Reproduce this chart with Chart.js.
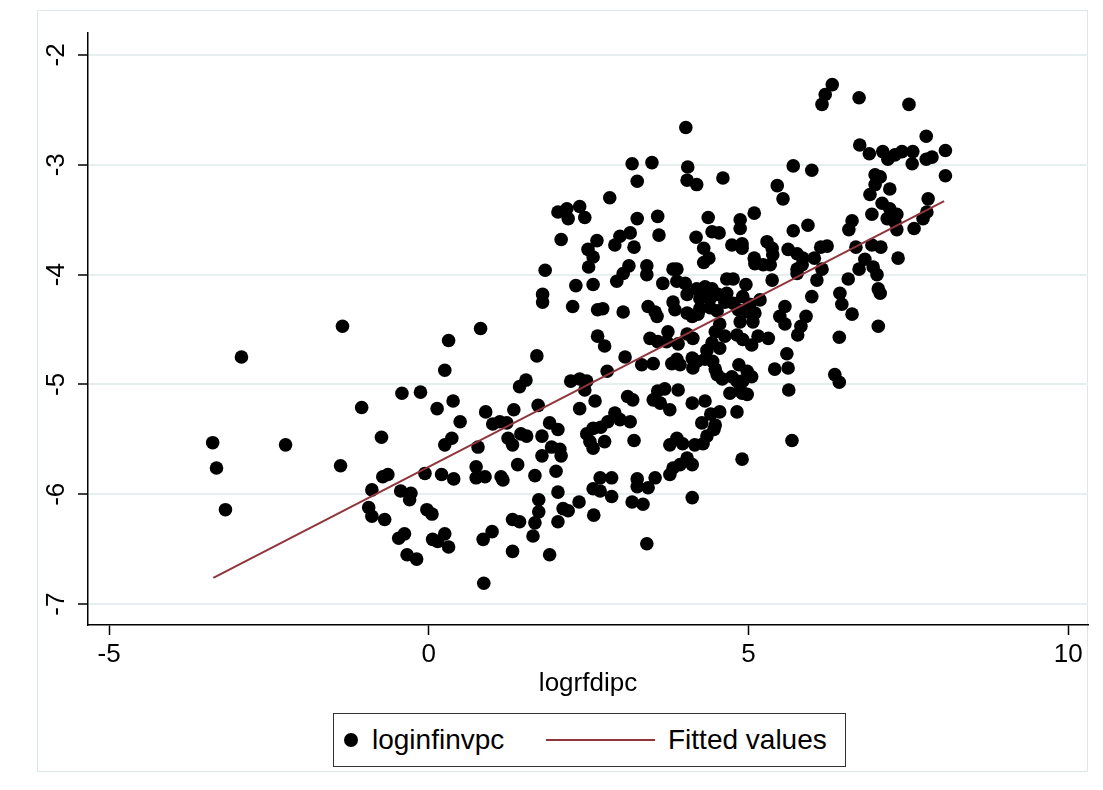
<!DOCTYPE html>
<html>
<head>
<meta charset="utf-8">
<script src="https://cdn.jsdelivr.net/npm/chart.js@4.4.1/dist/chart.umd.min.js"></script>
<style>
  html, body { margin: 0; padding: 0; background: #fff; }
  #wrap { position: relative; width: 1103px; height: 790px; overflow: hidden; font-family: "Liberation Sans", Arial, sans-serif; }
  #frame { position: absolute; left: 37px; top: 10px; width: 1051px; height: 762px; border: 1px solid #dde6e8; box-sizing: border-box; }
  canvas { position: absolute; left: 0; top: 0; }
  #legend { position: absolute; left: 333px; top: 713px; width: 513px; height: 54px; border: 1px solid #333; box-sizing: border-box; background: #fff; font-size: 28px; color: #000; }
  #legend .dot { position: absolute; top: 19px; width: 14px; height: 14px; border-radius: 50%; background: #000; }
  #legend span { position: absolute; top: 10px; line-height: 32px; white-space: nowrap; }
  #legend .ln { position: absolute; top: 25px; height: 2px; background: #8f353b; }
</style>
</head>
<body>
<div id="wrap">
  <div id="frame"></div>
  <canvas id="c" width="1103" height="790"></canvas>
  <div id="legend">
    <div class="dot" style="left:10px"></div>
    <span style="left:38px">loginfinvpc</span>
    <div class="ln" style="left:212px;width:109px"></div>
    <span style="left:334px">Fitted values</span>
  </div>
</div>
<script>
// ---- data ----
const xTickLabels = [-5, 0, 5, 10];
const yTickLabels = [-2, -3, -4, -5, -6, -7];
const xTitle = 'logrfdipc';
const scatterName = 'loginfinvpc';
const fitName = 'Fitted values';

// loginfinvpc vs logrfdipc, [x, y]
const loginfinvpc = [
[-3.38,-5.53],[-3.32,-5.76],[-3.18,-6.14],[-2.93,-4.75],[-2.24,-5.55],[-1.35,-4.47],[-1.38,-5.74],[-1.05,-5.21],[-0.89,-5.96],[-0.72,-5.84],
[-0.64,-5.82],[-0.94,-6.12],[-0.89,-6.20],[-0.69,-6.23],[-0.47,-6.40],[-0.74,-5.48],[-0.42,-5.08],[0.81,-4.49],[0.31,-4.60],[0.25,-4.87],
[1.69,-4.74],[1.78,-4.25],[2.25,-4.29],[-0.13,-5.07],[0.38,-5.15],[0.13,-5.22],[0.49,-5.34],[0.89,-5.25],[1.33,-5.23],[1.71,-5.19],
[1.42,-5.02],[1.52,-4.96],[2.22,-4.97],[1.00,-5.36],[1.11,-5.34],[1.22,-5.35],[1.44,-5.45],[1.53,-5.47],[1.24,-5.49],[1.31,-5.55],
[1.77,-5.47],[1.89,-5.35],[2.02,-5.41],[1.92,-5.57],[2.05,-5.59],[0.25,-5.55],[0.36,-5.49],[0.77,-5.57],[1.77,-5.65],[2.07,-5.65],
[1.39,-5.73],[-0.06,-5.81],[0.20,-5.82],[0.39,-5.86],[0.74,-5.75],[0.74,-5.85],[0.88,-5.84],[1.13,-5.84],[1.16,-5.87],[1.66,-5.83],
[1.99,-5.79],[2.02,-5.98],[-0.44,-5.97],[-0.28,-5.99],[-0.30,-6.05],[-0.03,-6.14],[0.05,-6.18],[1.72,-6.05],[1.72,-6.16],[1.66,-6.26],
[1.63,-6.38],[1.31,-6.23],[1.42,-6.25],[2.10,-6.13],[2.02,-6.25],[0.99,-6.34],[0.85,-6.41],[-0.38,-6.36],[0.06,-6.41],[0.14,-6.43],
[0.25,-6.36],[0.31,-6.48],[-0.34,-6.55],[-0.19,-6.59],[1.31,-6.52],[1.89,-6.55],[0.86,-6.81],
[4.02,-2.66],[3.18,-2.99],[3.49,-2.98],[4.05,-3.02],[4.04,-3.14],[4.19,-3.18],[4.60,-3.12],[3.26,-3.15],[2.83,-3.30],[2.02,-3.43],
[2.16,-3.40],[2.18,-3.49],[2.36,-3.38],[2.44,-3.48],[3.26,-3.49],[3.58,-3.47],[4.37,-3.48],[4.43,-3.61],[4.54,-3.62],[2.07,-3.68],
[2.63,-3.69],[2.49,-3.77],[2.57,-3.84],[2.91,-3.73],[2.99,-3.65],[3.15,-3.62],[3.21,-3.75],[3.60,-3.64],[4.18,-3.66],[4.30,-3.76],
[4.38,-3.85],[4.30,-3.89],[1.82,-3.96],[2.50,-3.93],[3.13,-3.92],[3.41,-3.92],[3.82,-3.95],[3.88,-3.95],[1.78,-4.18],[2.30,-4.10],
[2.57,-4.09],[3.04,-3.99],[2.94,-4.06],[3.41,-4.00],[3.66,-4.08],[3.88,-4.06],[4.01,-4.08],[4.19,-4.13],[4.32,-4.11],[4.43,-4.13],
[4.04,-4.18],[4.24,-4.22],[4.40,-4.22],[2.64,-4.32],[2.72,-4.31],[3.04,-4.34],[3.43,-4.29],[3.54,-4.34],[3.57,-4.38],[3.82,-4.25],
[3.85,-4.32],[4.04,-4.35],[4.12,-4.38],[4.21,-4.36],[4.40,-4.30],[4.51,-4.33],[2.64,-4.56],[2.75,-4.65],[3.07,-4.75],[3.46,-4.58],
[3.58,-4.61],[3.74,-4.52],[3.72,-4.61],[3.90,-4.63],[4.04,-4.54],[4.13,-4.58],[4.48,-4.52],[4.43,-4.62],[4.32,-4.77],[4.35,-4.69],
[3.33,-4.82],[3.51,-4.81],[3.80,-4.81],[3.88,-4.77],[3.93,-4.82],[4.12,-4.76],[4.13,-4.85],[4.19,-4.79],[4.48,-4.86],[2.79,-4.88],
[2.36,-4.95],[2.47,-4.97],[2.44,-5.05],[2.36,-5.22],[2.60,-5.15],[3.11,-5.11],[3.19,-5.14],[3.58,-5.06],[3.69,-5.04],[3.90,-5.05],
[3.51,-5.14],[3.62,-5.17],[3.77,-5.23],[4.12,-5.17],[4.32,-5.15],[4.41,-5.27],[2.91,-5.26],[2.80,-5.34],[2.99,-5.32],[3.15,-5.34],
[2.57,-5.40],[2.69,-5.39],[4.27,-5.35],[4.48,-5.37],[2.47,-5.45],[2.52,-5.52],[2.57,-5.58],[2.75,-5.52],[3.21,-5.51],[2.68,-5.85],
[2.86,-5.85],[2.57,-5.95],[2.68,-5.97],[2.86,-6.02],[3.26,-5.86],[3.54,-5.85],[3.26,-5.93],[3.43,-5.94],[3.77,-5.82],[3.82,-5.76],
[3.93,-5.73],[4.04,-5.67],[4.12,-5.73],[3.77,-5.55],[3.88,-5.49],[3.97,-5.54],[4.16,-5.55],[4.29,-5.54],[4.35,-5.47],[4.46,-5.41],
[2.18,-6.15],[2.35,-6.07],[2.58,-6.19],[3.18,-6.07],[3.35,-6.09],[4.12,-6.03],[3.41,-6.45],
[6.15,-2.45],[5.70,-3.01],[5.99,-3.05],[5.45,-3.19],[5.54,-3.31],[5.09,-3.44],[4.87,-3.50],[4.87,-3.58],[5.70,-3.60],[5.93,-3.55],
[4.74,-3.73],[4.90,-3.72],[4.90,-3.76],[5.29,-3.70],[5.37,-3.76],[5.38,-3.82],[5.34,-3.91],[5.23,-3.91],[5.09,-3.85],[5.62,-3.77],
[5.76,-3.81],[5.85,-3.85],[6.03,-3.85],[6.13,-3.75],[6.23,-3.74],[5.76,-3.95],[4.66,-4.04],[4.76,-4.04],[4.96,-4.09],[5.37,-4.05],
[5.10,-3.90],[5.76,-3.99],[5.84,-3.91],[6.07,-4.05],[5.99,-4.20],[4.29,-4.18],[4.52,-4.18],[4.66,-4.17],[4.63,-4.25],[4.76,-4.26],
[4.91,-4.20],[5.02,-4.27],[5.18,-4.23],[4.24,-4.31],[4.84,-4.32],[4.99,-4.34],[5.10,-4.35],[4.87,-4.43],[5.07,-4.43],[5.57,-4.29],
[5.49,-4.38],[5.57,-4.45],[5.90,-4.38],[5.82,-4.47],[5.77,-4.55],[4.55,-4.45],[4.63,-4.56],[4.82,-4.55],[4.91,-4.59],[5.05,-4.64],
[5.15,-4.56],[5.31,-4.58],[4.55,-4.67],[4.44,-4.79],[5.60,-4.72],[5.62,-4.85],[5.41,-4.86],[4.85,-4.82],[4.98,-4.88],[5.05,-4.93],
[4.51,-4.91],[4.59,-4.95],[4.74,-4.93],[4.82,-4.97],[4.91,-4.97],[4.87,-5.04],[4.71,-5.08],[4.90,-5.08],[4.98,-5.09],[5.63,-5.05],
[6.35,-4.91],[6.42,-4.98],[4.55,-5.25],[4.82,-5.25],[5.68,-5.51],[4.90,-5.68],
[6.31,-2.27],[6.20,-2.36],[6.73,-2.39],[7.51,-2.45],[7.78,-2.74],[6.74,-2.82],[6.89,-2.90],[7.10,-2.88],[7.18,-2.95],[7.29,-2.91],
[7.40,-2.88],[7.57,-2.88],[7.56,-2.99],[7.78,-2.95],[7.87,-2.93],[8.08,-2.87],[8.08,-3.10],[6.98,-3.09],[7.06,-3.11],[6.98,-3.18],
[7.21,-3.22],[6.90,-3.27],[7.09,-3.35],[7.21,-3.40],[7.32,-3.45],[7.17,-3.49],[7.29,-3.52],[7.32,-3.59],[6.93,-3.45],[7.81,-3.31],
[7.79,-3.43],[7.73,-3.49],[7.59,-3.58],[6.62,-3.51],[6.57,-3.59],[6.68,-3.75],[6.93,-3.73],[7.07,-3.75],[7.34,-3.85],[6.82,-3.86],
[6.73,-3.95],[6.95,-3.93],[7.01,-4.00],[6.15,-3.95],[6.56,-4.04],[7.03,-4.13],[7.06,-4.17],[6.43,-4.17],[6.46,-4.27],[6.62,-4.36],
[7.03,-4.47],[6.42,-4.57]
];

// Fitted values (endpoints of the linear fit)
const fitX = [-3.37, 8.06];
const fitY = [-6.76, -3.33];

// ---- chart ----
const FONT = '"Liberation Sans", Arial, sans-serif';
const AXIS_FONT = 26;
const yLabelPlugin = {
  id: 'yLabels',
  afterDraw(chart) {
    const ys = chart.scales.y, ctx = chart.ctx;
    ctx.save();
    ctx.fillStyle = '#000';
    ctx.font = AXIS_FONT + 'px ' + FONT;
    ctx.textAlign = 'center';
    ctx.textBaseline = 'middle';
    yTickLabels.forEach(v => {
      const py = ys.getPixelForValue(v);
      ctx.save();
      ctx.translate(57, py);
      ctx.rotate(-Math.PI / 2);
      ctx.fillText(String(v), 0, 0);
      ctx.restore();
    });
    ctx.restore();
  }
};

new Chart(document.getElementById('c'), {
  type: 'scatter',
  data: {
    datasets: [
      {
        label: fitName,
        type: 'line',
        order: 0,
        data: fitX.map((x, i) => ({ x, y: fitY[i] })),
        borderColor: '#8f353b',
        borderWidth: 2,
        pointRadius: 0,
        fill: false,
        tension: 0
      },
      {
        label: scatterName,
        order: 1,
        data: loginfinvpc.map(p => ({ x: p[0], y: p[1] })),
        backgroundColor: '#000',
        borderColor: '#000',
        borderWidth: 0,
        pointRadius: 6.8,
        pointHoverRadius: 6.8
      }
    ]
  },
  options: {
    responsive: false,
    devicePixelRatio: 1,
    animation: false,
    events: [],
    layout: { padding: { left: 38, right: 15, top: 33, bottom: 85 } },
    plugins: { legend: { display: false }, tooltip: { enabled: false } },
    scales: {
      x: {
        type: 'linear',
        min: -5.33, max: 10.31,
        afterBuildTicks: s => { s.ticks = xTickLabels.map(v => ({ value: v })); },
        afterFit: s => { s.height = 80; },
        border: { display: true, color: '#000', width: 1.5 },
        grid: { drawOnChartArea: false, drawTicks: true, tickLength: 10, tickColor: '#000', tickWidth: 1.5 },
        ticks: { color: '#000', font: { size: AXIS_FONT, family: FONT }, padding: 4, maxRotation: 0, callback: v => String(v) },
        title: { display: true, text: xTitle, color: '#000', font: { size: AXIS_FONT, family: FONT }, padding: { top: 2, bottom: 6 } }
      },
      y: {
        type: 'linear',
        min: -7.19, max: -1.8,
        afterBuildTicks: s => { s.ticks = yTickLabels.map(v => ({ value: v })); },
        afterFit: s => { s.width = 50; },
        border: { display: true, color: '#000', width: 1.5 },
        grid: { color: '#e6eef0', lineWidth: 2, drawTicks: true, tickLength: 10, tickColor: '#000', tickWidth: 1.5 },
        ticks: { display: false }
      }
    }
  },
  plugins: [yLabelPlugin]
});
</script>
</body>
</html>
